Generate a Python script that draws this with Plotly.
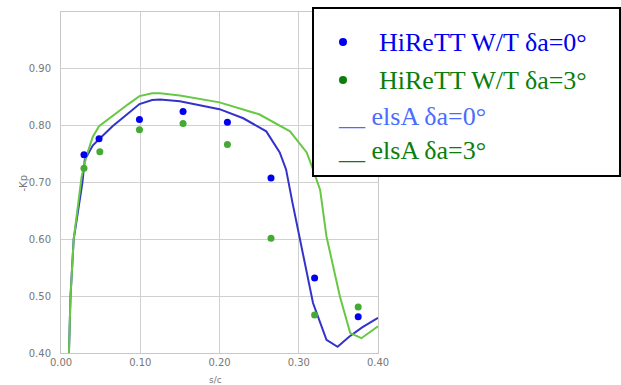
import plotly.graph_objects as go

# HiReTT wind tunnel data
hi0_x = [0.029, 0.048, 0.099, 0.154, 0.210, 0.265, 0.320, 0.375]
hi0_y = [0.749, 0.777, 0.811, 0.825, 0.806, 0.708, 0.532, 0.464]
hi3_x = [0.029, 0.049, 0.099, 0.154, 0.210, 0.265, 0.320, 0.375]
hi3_y = [0.725, 0.754, 0.793, 0.804, 0.767, 0.602, 0.467, 0.481]

# elsA computations
els0_x = [0.010, 0.012, 0.016, 0.027, 0.030, 0.040, 0.048, 0.065, 0.085, 0.099, 0.115, 0.125, 0.150, 0.200, 0.230, 0.259, 0.276, 0.284, 0.292, 0.301, 0.318, 0.335, 0.349, 0.364, 0.380, 0.400]
els0_y = [0.400, 0.500, 0.600, 0.700, 0.740, 0.765, 0.776, 0.799, 0.822, 0.838, 0.845, 0.846, 0.843, 0.829, 0.813, 0.790, 0.753, 0.723, 0.665, 0.605, 0.488, 0.423, 0.411, 0.429, 0.445, 0.462]
els3_x = [0.010, 0.012, 0.016, 0.026, 0.032, 0.040, 0.048, 0.070, 0.085, 0.099, 0.115, 0.125, 0.150, 0.200, 0.250, 0.289, 0.310, 0.318, 0.327, 0.335, 0.352, 0.365, 0.379, 0.400]
els3_y = [0.400, 0.500, 0.600, 0.710, 0.746, 0.780, 0.799, 0.823, 0.838, 0.852, 0.857, 0.857, 0.853, 0.841, 0.820, 0.790, 0.753, 0.723, 0.687, 0.605, 0.499, 0.435, 0.426, 0.447]

legend_labels = ["HiReTT W/T δa=0°", "HiReTT W/T δa=3°", "__ elsA δa=0°", "__ elsA δa=3°"]
legend_colors = ["#0000ee", "#0a7d0a", "#4a6cff", "#0a7d0a"]

fig = go.Figure()
fig.add_trace(go.Scatter(x=els0_x, y=els0_y, mode="lines", line=dict(color="#3333cc", width=2), showlegend=False))
fig.add_trace(go.Scatter(x=els3_x, y=els3_y, mode="lines", line=dict(color="#66c844", width=2), showlegend=False))
fig.add_trace(go.Scatter(x=hi0_x, y=hi0_y, mode="markers", marker=dict(color="#0000ee", size=7), showlegend=False))
fig.add_trace(go.Scatter(x=hi3_x, y=hi3_y, mode="markers", marker=dict(color="#44aa33", size=7), showlegend=False))

L, R, T, B = 61, 378, 12, 353
W, H = R - L, B - T

def px(x):
    return (x - L) / W

def py(y):
    return (B - y) / H

shapes = [dict(type="rect", xref="paper", yref="paper", x0=px(313), x1=px(620), y0=py(176), y1=py(8),
               line=dict(color="black", width=2), fillcolor="white", layer="above")]
for cy, col in [(42, "#0000ee"), (80, "#0a7d0a")]:
    shapes.append(dict(type="circle", xref="paper", yref="paper", x0=px(339), x1=px(347), y0=py(cy + 4), y1=py(cy - 4),
                       line=dict(width=0), fillcolor=col, layer="above"))

annotations = []
pos = [(377, 42), (377, 80), (336, 117), (336, 150)]
for (ax, ay), lab, col in zip(pos, legend_labels, legend_colors):
    annotations.append(dict(xref="paper", yref="paper", x=px(ax), y=py(ay), text=lab, showarrow=False,
                            xanchor="left", yanchor="middle", font=dict(family="Liberation Serif", size=26, color=col)))
annotations.append(dict(xref="paper", yref="paper", x=px(15), y=py(183), text="-Kp", textangle=-90, showarrow=False,
                        font=dict(family="DejaVu Sans", size=10, color="#777")))
annotations.append(dict(xref="paper", yref="paper", x=px(215), y=py(386), text="s/c", showarrow=False,
                        yanchor="bottom", borderpad=0,
                        font=dict(family="DejaVu Sans", size=9, color="#777")))

tf = dict(family="DejaVu Sans", size=10, color="#777")
fig.update_layout(
    width=621, height=385, margin=dict(l=L, r=621 - R, t=T, b=385 - B),
    paper_bgcolor="white", plot_bgcolor="white",
    shapes=shapes, annotations=annotations,
    xaxis=dict(range=[0, 0.40], tickvals=[0, 0.1, 0.2, 0.3, 0.4], ticktext=["0.00", "0.10", "0.20", "0.30", "0.40"],
               showgrid=True, gridcolor="#d0d0d0", gridwidth=1, zeroline=False, showline=True, mirror=True,
               linecolor="#c8c8c8", ticks="", tickfont=tf, ticklabelstandoff=0),
    yaxis=dict(range=[0.40, 1.00], tickvals=[0.4, 0.5, 0.6, 0.7, 0.8, 0.9], ticktext=["0.40", "0.50", "0.60", "0.70", "0.80", "0.90"],
               showgrid=True, gridcolor="#d0d0d0", gridwidth=1, zeroline=False, showline=True, mirror=True,
               linecolor="#c8c8c8", ticks="", tickfont=tf, ticklabelstandoff=7),
)
fig.write_html("out.html", post_script="document.body.style.margin='0px';",
               config={"displayModeBar": False, "staticPlot": True})
